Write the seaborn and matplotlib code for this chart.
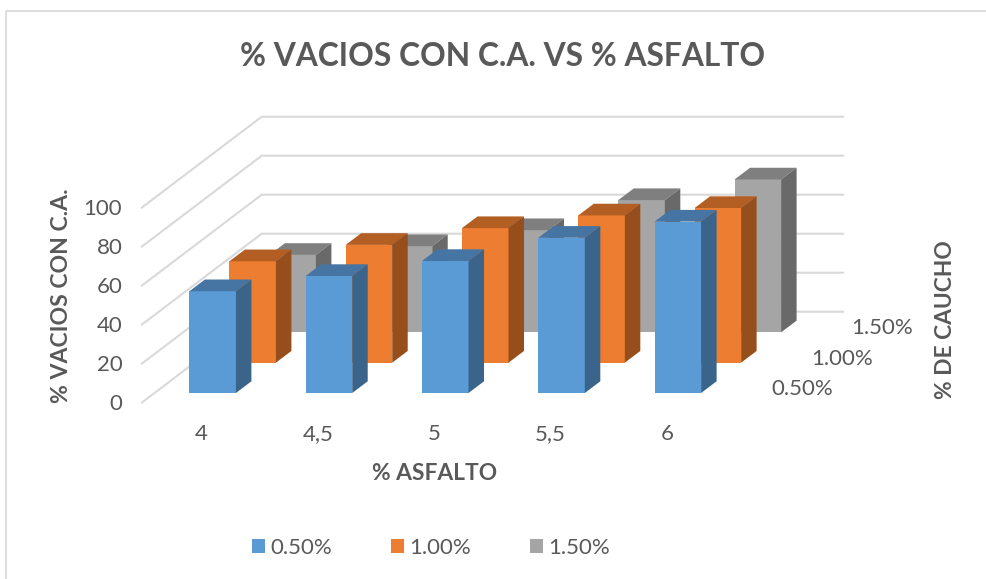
import matplotlib
matplotlib.use("Agg")
import matplotlib.pyplot as plt
import seaborn as sns
from matplotlib.lines import Line2D
from matplotlib.patches import Patch, Polygon
from matplotlib.transforms import Affine2D

# ---- data ----
asfalto = ["4", "4,5", "5", "5,5", "6"]
caucho = ["0.50%", "1.00%", "1.50%"]
vacios_050 = [52.2, 60.0, 67.7, 79.6, 87.9]
vacios_100 = [52.0, 60.4, 69.0, 75.5, 79.3]
vacios_150 = [39.7, 44.2, 52.4, 67.8, 78.4]
y_ticks = [0, 20, 40, 60, 80, 100]

# ---- styling ----
front = ["#5B9BD5", "#ED7D31", "#A5A5A5"]
top = ["#4675A3", "#B35E23", "#7F7F7F"]
side = ["#3A6489", "#964F1C", "#696969"]
grid_c = "#D9D9D9"
text_c = "#595959"

W, H = 986, 579
sns.set_theme(style="white")
plt.rcParams["font.family"] = ["Lato", "DejaVu Sans"]

fig = plt.figure(figsize=(W / 100, H / 100), dpi=100, facecolor="white")
# front plane of the oblique 3-D box
L, R, B, T = 141.7, 723.2, 402.7, 207.7
ax = fig.add_axes([L / W, 1 - B / H, (R - L) / W, (B - T) / H])
ax.patch.set_visible(False)

PX_X = (R - L) / 5       # px per category
PX_Y = (B - T) / 100     # px per value unit
wall_dx, wall_dy = 120 / PX_X, 91 / PX_Y      # whole depth of the box
step_dx, step_dy = wall_dx / 3, wall_dy / 3   # depth of one series
depth_dx, depth_dy = 15.5 / PX_X, 11.7 / PX_Y # depth of one bar
start_dx, start_dy = 12.8 / PX_X, 9.7 / PX_Y  # gap to the first series

# gridlines on side wall and back wall
x0, x1 = -0.5, 4.5
for v in y_ticks:
    ax.plot([x0, x0 + wall_dx, x1 + wall_dx], [v, v + wall_dy, v + wall_dy],
            color=grid_c, lw=1.5, clip_on=False, zorder=1,
            solid_joinstyle="miter")

series = [vacios_050, vacios_100, vacios_150]
for i in [2, 1, 0]:
    sns.barplot(x=asfalto, y=series[i], order=asfalto, color=front[i],
                saturation=1, width=0.4, errorbar=None, ax=ax, zorder=3 + 3 - i)
    sx = start_dx + i * step_dx
    sy = start_dy + i * step_dy
    tr = Affine2D().translate(sx, sy) + ax.transData
    for bar in ax.containers[-1]:
        bar.set_transform(tr)
        bar.set_clip_on(False)
        bar.set_linewidth(0)
        xl, w, h = bar.get_x(), bar.get_width(), bar.get_height()
        xr = xl + w
        ax.add_patch(Polygon(
            [(xl, h), (xr, h), (xr + depth_dx, h + depth_dy), (xl + depth_dx, h + depth_dy)],
            closed=True, facecolor=top[i], lw=0, transform=tr, clip_on=False,
            zorder=3 + 3 - i))
        ax.add_patch(Polygon(
            [(xr, 0), (xr + depth_dx, depth_dy), (xr + depth_dx, h + depth_dy), (xr, h)],
            closed=True, facecolor=side[i], lw=0, transform=tr, clip_on=False,
            zorder=3 + 3 - i))

ax.set_xlim(x0, x1)
ax.set_ylim(0, 100)
ax.set_yticks(y_ticks)
ax.set_xticks(range(len(asfalto)))
ax.set_xticklabels(asfalto)
ax.tick_params(axis="y", length=0, pad=14, labelsize=16, labelcolor=text_c)
ax.tick_params(axis="x", length=0, pad=15.5, labelsize=16, labelcolor=text_c)
for s in ax.spines.values():
    s.set_visible(False)
ax.grid(False)
for lab in ax.get_xticklabels():
    lab.set_transform(lab.get_transform() + Affine2D().translate(1.8, 0))
for lab in ax.get_yticklabels():
    lab.set_transform(lab.get_transform() + Affine2D().translate(0, 1))

# depth axis labels
for i, lab in enumerate(caucho):
    ax.text(x1 + (i + 0.5) * step_dx + 59 / PX_X,
            (i + 0.5) * step_dy - 1.5 / PX_Y, lab,
            ha="center", va="center", fontsize=16, color=text_c, clip_on=False)

def fx(px):
    return px / W
def fy(py):
    return 1 - py / H

fig.text(fx(503), fy(56), "% VACIOS CON C.A. VS % ASFALTO", ha="center", va="center",
         fontsize=22.9, fontweight="bold", color=text_c)
fig.text(fx(62), fy(296), "% VACIOS CON C.A.", rotation=90, ha="center", va="center",
         fontsize=16.6, fontweight="bold", color=text_c)
fig.text(fx(434.5), fy(473), "% ASFALTO", ha="center", va="center",
         fontsize=16.4, fontweight="bold", color=text_c)
fig.text(fx(945), fy(320), "% DE CAUCHO", rotation=90, ha="center", va="center",
         fontsize=16.4, fontweight="bold", color=text_c)

# legend
handles = [Patch(facecolor=c, edgecolor="none", label=l) for c, l in zip(front, caucho)]
fig.legend(handles=handles, loc="center", bbox_to_anchor=(fx(431), fy(548)), ncols=3,
           frameon=False, fontsize=16, labelcolor=text_c, handlelength=0.6,
           handleheight=0.6, handletextpad=0.25, columnspacing=2.62,
           borderpad=0, borderaxespad=0)

# chart frame
fig.add_artist(Line2D([fx(6), fx(6), 1], [0, fy(11), fy(11)], color=grid_c, lw=1.2,
                      solid_joinstyle="miter"))

fig.savefig("out.png", dpi=100, facecolor="white")
